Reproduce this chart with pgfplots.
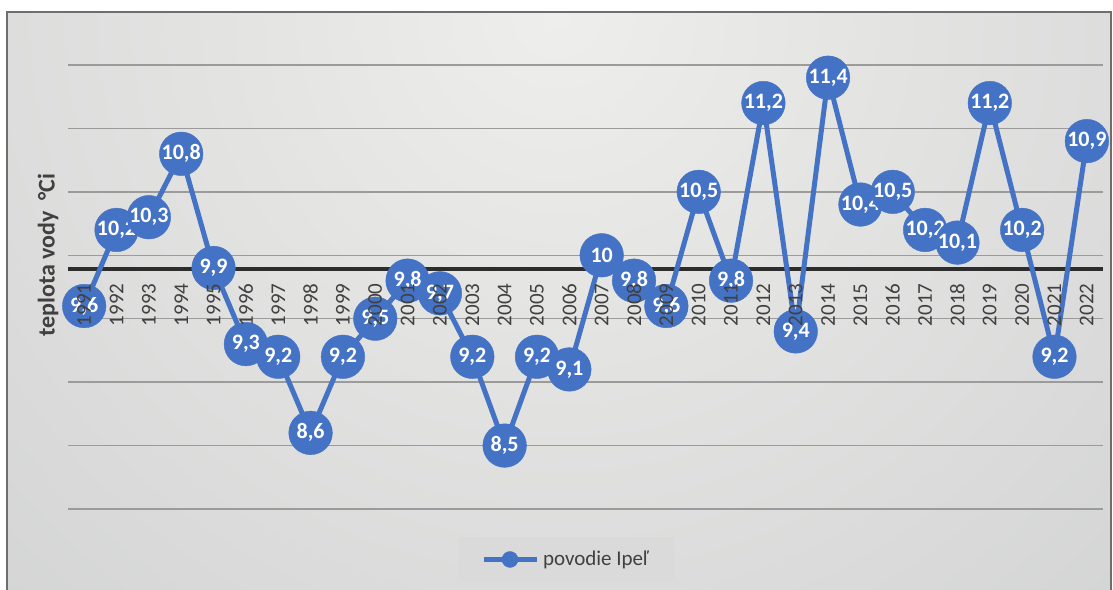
\documentclass[border=0pt]{standalone}
\usepackage{pgfplots}
\pgfplotsset{compat=1.18}
\usepackage{fontspec}
\setmainfont{Carlito}
\definecolor{serblue}{RGB}{68,114,196}
\definecolor{bgin}{RGB}{238,238,236}
\definecolor{bgout}{RGB}{186,188,189}
\definecolor{framegray}{RGB}{110,110,110}
\definecolor{labgray}{RGB}{64,64,64}
\definecolor{gridgray}{RGB}{155,155,155}
\definecolor{axisdark}{RGB}{45,45,45}
\definecolor{legfill}{RGB}{218,218,218}
\pgfplotsset{
  basegeom/.style={
    at={(34pt,40pt)}, anchor=south west,
    scale only axis, width=517.5pt, height=222pt,
    xmin=1990.5, xmax=2022.5, ymin=8, ymax=11.5,
    clip=false,
    axis line style={draw=none},
    /pgf/number format/use comma,
    /pgf/number format/1000 sep={},
    /pgf/number format/assume math mode=true,
    major tick length=0pt,
  },
}
\begin{document}
\begin{tikzpicture}[x=1pt,y=1pt]
\useasboundingbox (0,0) rectangle (556.5,294.5);
\fill[white] (0,0) rectangle (556.5,294.5);
\begin{scope}
\clip (3.5,-1) rectangle (555.5,288.5);
\shade[inner color=bgin, outer color=bgout] (278.5,288.5) circle (800);
\end{scope}
\draw[color=framegray, line width=0.6pt] (3.5,-2) -- (3.5,288.5) -- (555.5,288.5) -- (555.5,-2);
\node[rotate=90, font=\bfseries\fontsize{12}{14}\selectfont, text=labgray] at (24,167) {teplota vody \ °Ci};
\begin{axis}[
  basegeom,
  ytick={8,8.5,9,9.5,10,10.5,11,11.5},
  yticklabels={},
  ymajorgrids,
  grid style={gridgray, line width=0.75pt},
  xtick={1991,1992,...,2022},
  xticklabels={},
  legend style={at={(0.482,-0.1137)}, anchor=center, draw=none, fill=legfill,
    font=\fontsize{10.5}{12}\selectfont, text=labgray, inner xsep=11pt, inner ysep=5pt},
  legend image code/.code={\draw[mark repeat=2, mark phase=2, #1, mark size=4pt] plot coordinates {(0pt,0pt) (13.25pt,0pt) (26.5pt,0pt)};},
]
\draw[axisdark, line width=2pt] (axis cs:1990.5,9.89) -- (axis cs:2022.5,9.89);
\addplot[serblue, line width=2.5pt, mark=*, mark size=10.9pt,
  mark options={solid, fill=serblue, draw=serblue, line width=0.2pt},
  nodes near coords,
  every node near coord/.append style={anchor=center, text=white, font=\bfseries\fontsize{11}{13}\selectfont}]
coordinates {
(1991,9.6) (1992,10.2) (1993,10.3) (1994,10.8) (1995,9.9) (1996,9.3) (1997,9.2) (1998,8.6)
(1999,9.2) (2000,9.5) (2001,9.8) (2002,9.7) (2003,9.2) (2004,8.5) (2005,9.2) (2006,9.1)
(2007,10) (2008,9.8) (2009,9.6) (2010,10.5) (2011,9.8) (2012,11.2) (2013,9.4) (2014,11.4)
(2015,10.4) (2016,10.5) (2017,10.2) (2018,10.1) (2019,11.2) (2020,10.2) (2021,9.2) (2022,10.9)
};
\addlegendentry{povodie Ipeľ}
\end{axis}
\begin{axis}[
  basegeom,
  ytick=\empty,
  xtick={1991,1992,...,2022},
  x tick label style={rotate=90, anchor=east, inner sep=0pt, font=\fontsize{10.5}{12}\selectfont, text=labgray},
  xticklabel shift=-112.9pt,
]
\end{axis}
\end{tikzpicture}
\end{document}
